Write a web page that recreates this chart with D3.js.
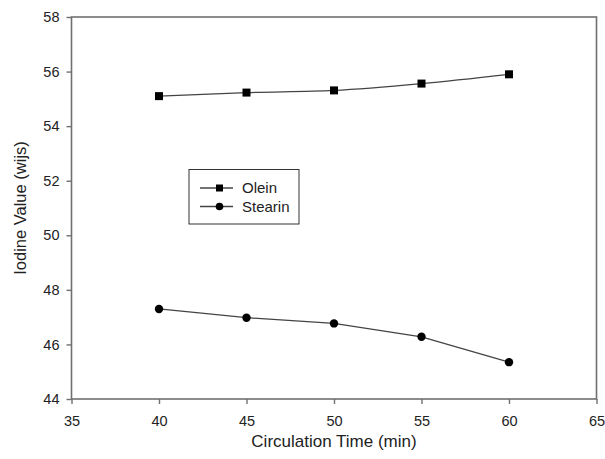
<!DOCTYPE html>
<html><head><meta charset="utf-8">
<script src="https://cdn.jsdelivr.net/npm/d3@7"></script>
<style>body{margin:0;background:#fff}svg{display:block;font-family:"Liberation Sans",Arial,sans-serif}</style>
</head><body><svg id="c" width="605" height="459"></svg>
<script>
const times = [40, 45, 50, 55, 60];
const olein = [55.1, 55.23, 55.31, 55.56, 55.9];
const stearin = [47.3, 46.98, 46.77, 46.28, 45.35];
const xTicks = [35, 40, 45, 50, 55, 60, 65];
const yTicks = [44, 46, 48, 50, 52, 54, 56, 58];
const seriesNames = ["Olein", "Stearin"];

const svg = d3.select("#c");
const L = 71.5, R = 596.5, T = 17, B = 399;
const x = d3.scaleLinear().domain([35, 65]).range([L, R]);
const y = d3.scaleLinear().domain([44, 58]).range([B, T]);
const axisColor = "#707070";

// frame
svg.append("rect").attr("x", L).attr("y", T).attr("width", R - L).attr("height", B - T)
  .attr("fill", "none").attr("stroke", axisColor).attr("stroke-width", 1.6);

const gx = svg.append("g").attr("transform", `translate(0,${B})`)
  .call(d3.axisBottom(x).tickValues(xTicks).tickSize(5).tickPadding(12).tickFormat(d3.format("d")));
const gy = svg.append("g").attr("transform", `translate(${L},0)`)
  .call(d3.axisLeft(y).tickValues(yTicks).tickSize(5).tickPadding(7).tickFormat(d3.format("d")));
[gx, gy].forEach(g => {
  g.select(".domain").remove();
  g.selectAll(".tick line").attr("stroke", axisColor).attr("stroke-width", 1.4);
  g.selectAll(".tick text").attr("fill", "#222").style("font-size", "14.5px");
});

svg.append("text").attr("x", (L + R) / 2).attr("y", 447).attr("text-anchor", "middle")
  .style("font-size", "17px").attr("fill", "#222").text("Circulation Time (min)");
svg.append("text").attr("transform", "translate(26,208) rotate(-90)").attr("text-anchor", "middle")
  .style("font-size", "16.5px").attr("fill", "#222").text("Iodine Value (wijs)");

const lineColor = "#444";
const oData = times.map((t, i) => [t, olein[i]]);
const sData = times.map((t, i) => [t, stearin[i]]);

svg.append("path").datum(oData).attr("fill", "none").attr("stroke", lineColor).attr("stroke-width", 1.3)
  .attr("d", d3.line().x(d => x(d[0])).y(d => y(d[1])).curve(d3.curveMonotoneX));
svg.append("path").datum(sData).attr("fill", "none").attr("stroke", lineColor).attr("stroke-width", 1.3)
  .attr("d", d3.line().x(d => x(d[0])).y(d => y(d[1])));

svg.selectAll(".sq").data(oData).enter().append("rect")
  .attr("x", d => x(d[0]) - 4).attr("y", d => y(d[1]) - 4).attr("width", 8).attr("height", 8).attr("fill", "#000");
svg.selectAll(".ci").data(sData).enter().append("circle")
  .attr("cx", d => x(d[0])).attr("cy", d => y(d[1])).attr("r", 4.2).attr("fill", "#000");

// legend
const lg = svg.append("g");
lg.append("rect").attr("x", 189).attr("y", 169.5).attr("width", 110).attr("height", 54.5)
  .attr("fill", "#fff").attr("stroke", "#333").attr("stroke-width", 1);
seriesNames.forEach((n, i) => {
  const yy = 188 + i * 18.5;
  lg.append("line").attr("x1", 200).attr("x2", 233).attr("y1", yy).attr("y2", yy)
    .attr("stroke", lineColor).attr("stroke-width", 1.3);
  if (i === 0) lg.append("rect").attr("x", 216).attr("y", yy - 3.5).attr("width", 7).attr("height", 7).attr("fill", "#000");
  else lg.append("circle").attr("cx", 219.5).attr("cy", yy).attr("r", 3.8).attr("fill", "#000");
  lg.append("text").attr("x", 242).attr("y", yy + 5).style("font-size", "15px").attr("fill", "#222").text(n);
});
</script></body></html>
